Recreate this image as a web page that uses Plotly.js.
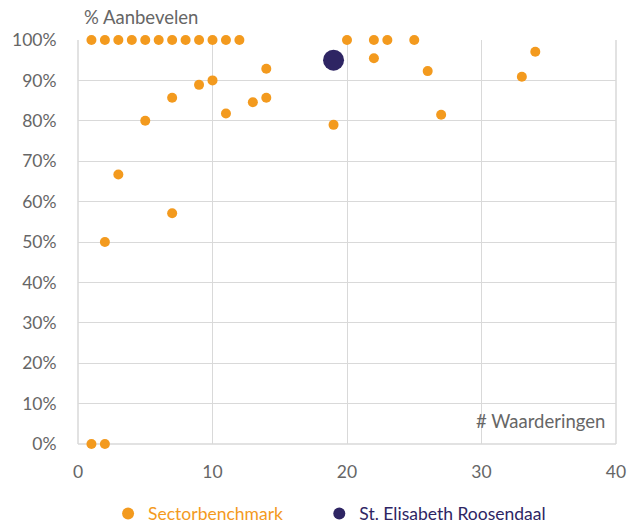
<!DOCTYPE html>
<html><head><meta charset="utf-8">
<script src="https://cdn.plot.ly/plotly-3.0.1.min.js"></script>
<style>html,body{margin:0;padding:0;background:#fff}</style>
</head><body>
<div id="chart" style="width:632px;height:524px"></div>
<script>
var benchX = [1,2,3,4,5,6,7,8,9,10,11,12,20,22,23,25,
              3,2,7,5,7,9,10,11,13,14,14,19,22,26,27,33,34,1,2];
var benchY = [100,100,100,100,100,100,100,100,100,100,100,100,100,100,100,100,
              66.7,50,57.1,80,85.7,88.9,90,81.8,84.6,85.7,92.9,79,95.5,92.3,81.5,90.9,97.1,0,0];
var orgX = [19];
var orgY = [95];
var xTicks = [0,10,20,30,40];
var yTicks = [0,10,20,30,40,50,60,70,80,90,100];
var yTickText = yTicks.map(function(v){return v+'%';});

var orange = '#F39A1E', navy = '#2E2563', grey = '#666666';
var pad = '&nbsp;&nbsp;&nbsp;&nbsp;&nbsp;&nbsp;&nbsp;';
var traces = [
  {x: benchX, y: benchY, type: 'scatter', mode: 'markers', cliponaxis: false,
   name: '<span style="color:' + orange + '">Sectorbenchmark</span>' + pad,
   marker: {color: orange, size: 10}},
  {x: orgX, y: orgY, type: 'scatter', mode: 'markers', cliponaxis: false,
   name: '<span style="color:' + navy + '">St. Elisabeth Roosendaal</span>',
   marker: {color: navy, size: 21}}
];
var layout = {
  width: 632, height: 524,
  margin: {l: 78, r: 16, t: 40, b: 80},
  paper_bgcolor: '#fff', plot_bgcolor: '#fff',
  font: {family: 'Lato, "Open Sans", sans-serif', size: 17.5, color: grey},
  showlegend: true,
  legend: {orientation: 'h', x: 0.171, xref: 'container', xanchor: 'left',
           y: 0.02, yref: 'container', yanchor: 'middle',
           itemsizing: 'constant', itemwidth: 30,
           font: {size: 17.5}, tracegroupgap: 0},
  xaxis: {range: [0, 40], tickvals: xTicks, ticktext: xTicks.map(String),
          showgrid: true, gridcolor: '#d9d9d9', gridwidth: 1, zeroline: false,
          showline: false, ticks: 'outside', ticklen: 12, tickcolor: 'rgba(0,0,0,0)',
          tickfont: {size: 17.5, color: grey}, fixedrange: true},
  yaxis: {range: [0, 100], tickvals: yTicks, ticktext: yTickText,
          showgrid: true, gridcolor: '#d9d9d9', gridwidth: 1, zeroline: false,
          showline: false, ticks: 'outside', ticklen: 17, tickcolor: 'rgba(0,0,0,0)',
          tickfont: {size: 17.5, color: grey}, fixedrange: true},
  shapes: [
    {type: 'line', xref: 'paper', yref: 'paper', x0: 0, x1: 0, y0: 0, y1: 1, line: {color: '#d9d9d9', width: 1.5}, layer: 'below'},
    {type: 'line', xref: 'paper', yref: 'paper', x0: 1, x1: 1, y0: 0, y1: 1, line: {color: '#d9d9d9', width: 1.5}, layer: 'below'},
    {type: 'line', xref: 'paper', yref: 'paper', x0: 0, x1: 1, y0: 0, y1: 0, line: {color: '#d9d9d9', width: 1.5}, layer: 'below'}
  ],
  annotations: [
    {text: '% Aanbevelen', xref: 'paper', yref: 'paper', x: 0.007, y: 1, xanchor: 'left', yanchor: 'bottom',
     yshift: 10, showarrow: false, font: {size: 18.5, color: grey}},
    {text: '# Waarderingen', xref: 'paper', yref: 'paper', x: 0.983, y: 0.057, xanchor: 'right', yanchor: 'middle',
     showarrow: false, font: {size: 18.5, color: grey}}
  ]
};
Plotly.newPlot('chart', traces, layout, {displayModeBar: false, staticPlot: true});
</script>
</body></html>
